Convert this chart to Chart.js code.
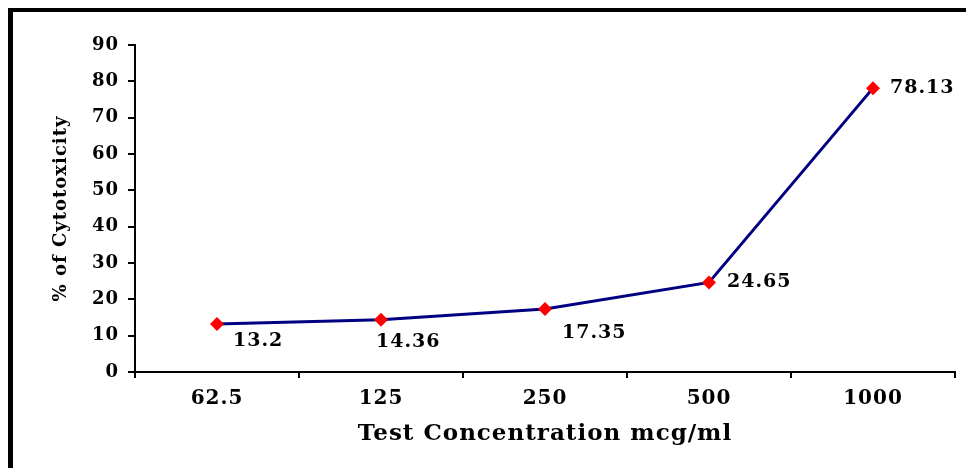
<!DOCTYPE html>
<html>
<head>
<meta charset="utf-8">
<script src="https://cdn.jsdelivr.net/npm/chart.js@4/dist/chart.umd.min.js"></script>
<style>
  html, body { margin: 0; padding: 0; background: #fff; }
  #wrap { width: 966px; height: 468px; position: relative; }
</style>
</head>
<body>
<div id="wrap"><canvas id="grafico"></canvas></div>
<script>
var concentracoes = ['62.5', '125', '250', '500', '1000'];
var citotoxicidade = [13.2, 14.36, 17.35, 24.65, 78.13];
var rotulos = ['13.2', '14.36', '17.35', '24.65', '78.13'];

var fonte = '"DejaVu Serif", serif';

// moldura preta (so lados esquerdo e superior aparecem)
var moldura = {
	id: 'moldura',
	beforeDraw(chart) {
		var ctx = chart.ctx;
		ctx.save();
		ctx.fillStyle = '#000';
		ctx.fillRect(8, 8, 966, 4);
		ctx.fillRect(8, 8, 5, 468);
		ctx.restore();
	}
};

// rotulos dos pontos
var rotulosPontos = {
	id: 'rotulosPontos',
	afterDatasetsDraw(chart, args, opts) {
		var ctx = chart.ctx;
		var meta = chart.getDatasetMeta(0);
		ctx.save();
		ctx.font = 'bold 19px ' + fonte;
		ctx.fillStyle = '#000';
		ctx.textAlign = 'left';
		ctx.textBaseline = 'middle';
		meta.data.forEach(function (pt, i) {
			var d = opts.desloc[i];
			ctx.fillText(rotulos[i], pt.x + d[0], pt.y + d[1]);
		});
		ctx.restore();
	}
};

var espacamento = {
	id: 'espacamento',
	beforeUpdate(chart) { chart.ctx.letterSpacing = '1px'; },
	beforeDraw(chart) { chart.ctx.letterSpacing = '1px'; }
};

new Chart(document.getElementById('grafico').getContext('2d'), {
	type: 'line',
	data: {
		labels: concentracoes,
		datasets: [{
			label: '% of Cytotoxicity',
			data: citotoxicidade,
			borderColor: '#000080',
			borderWidth: 3,
			pointStyle: 'rectRot',
			pointRadius: 7,
			pointBackgroundColor: '#ff0000',
			pointBorderColor: '#ff0000',
			pointBorderWidth: 0,
			tension: 0
		}]
	},
	options: {
		responsive: true,
		maintainAspectRatio: false,
		animation: false,
		layout: { padding: { left: 0, top: 45, right: 11, bottom: 0 } },
		plugins: {
			legend: { display: false },
			tooltip: { enabled: false },
			rotulosPontos: { desloc: [[16, 17], [-5, 22], [17, 24], [18, 0], [17, 0]] }
		},
		scales: {
			x: {
				type: 'category',
				offset: true,
				afterFit(scale) { scale.height = 96; },
				grid: { offset: true, drawOnChartArea: false, drawTicks: true, tickLength: 6, color: '#000', lineWidth: 2 },
				border: { color: '#000', width: 2 },
				ticks: { color: '#000', font: { family: fonte, size: 20, weight: 'bold' }, padding: 9, maxRotation: 0 },
				title: { display: true, text: 'Test Concentration mcg/ml', color: '#000', font: { family: fonte, size: 23, weight: 'bold' }, padding: { top: 0, bottom: 20 } }
			},
			y: {
				min: 0,
				max: 90,
				afterFit(scale) { scale.width = 135; },
				grid: { drawOnChartArea: false, drawTicks: true, tickLength: 7, color: '#000', lineWidth: 2 },
				border: { color: '#000', width: 2 },
				ticks: { stepSize: 10, color: '#000', font: { family: fonte, size: 18, weight: 'bold' }, padding: 9 },
				title: { display: true, text: '% of Cytotoxicity', color: '#000', font: { family: fonte, size: 18, weight: 'bold' }, padding: { top: 51, bottom: 0 } }
			}
		}
	},
	plugins: [moldura, rotulosPontos, espacamento]
});
</script>
</body>
</html>
